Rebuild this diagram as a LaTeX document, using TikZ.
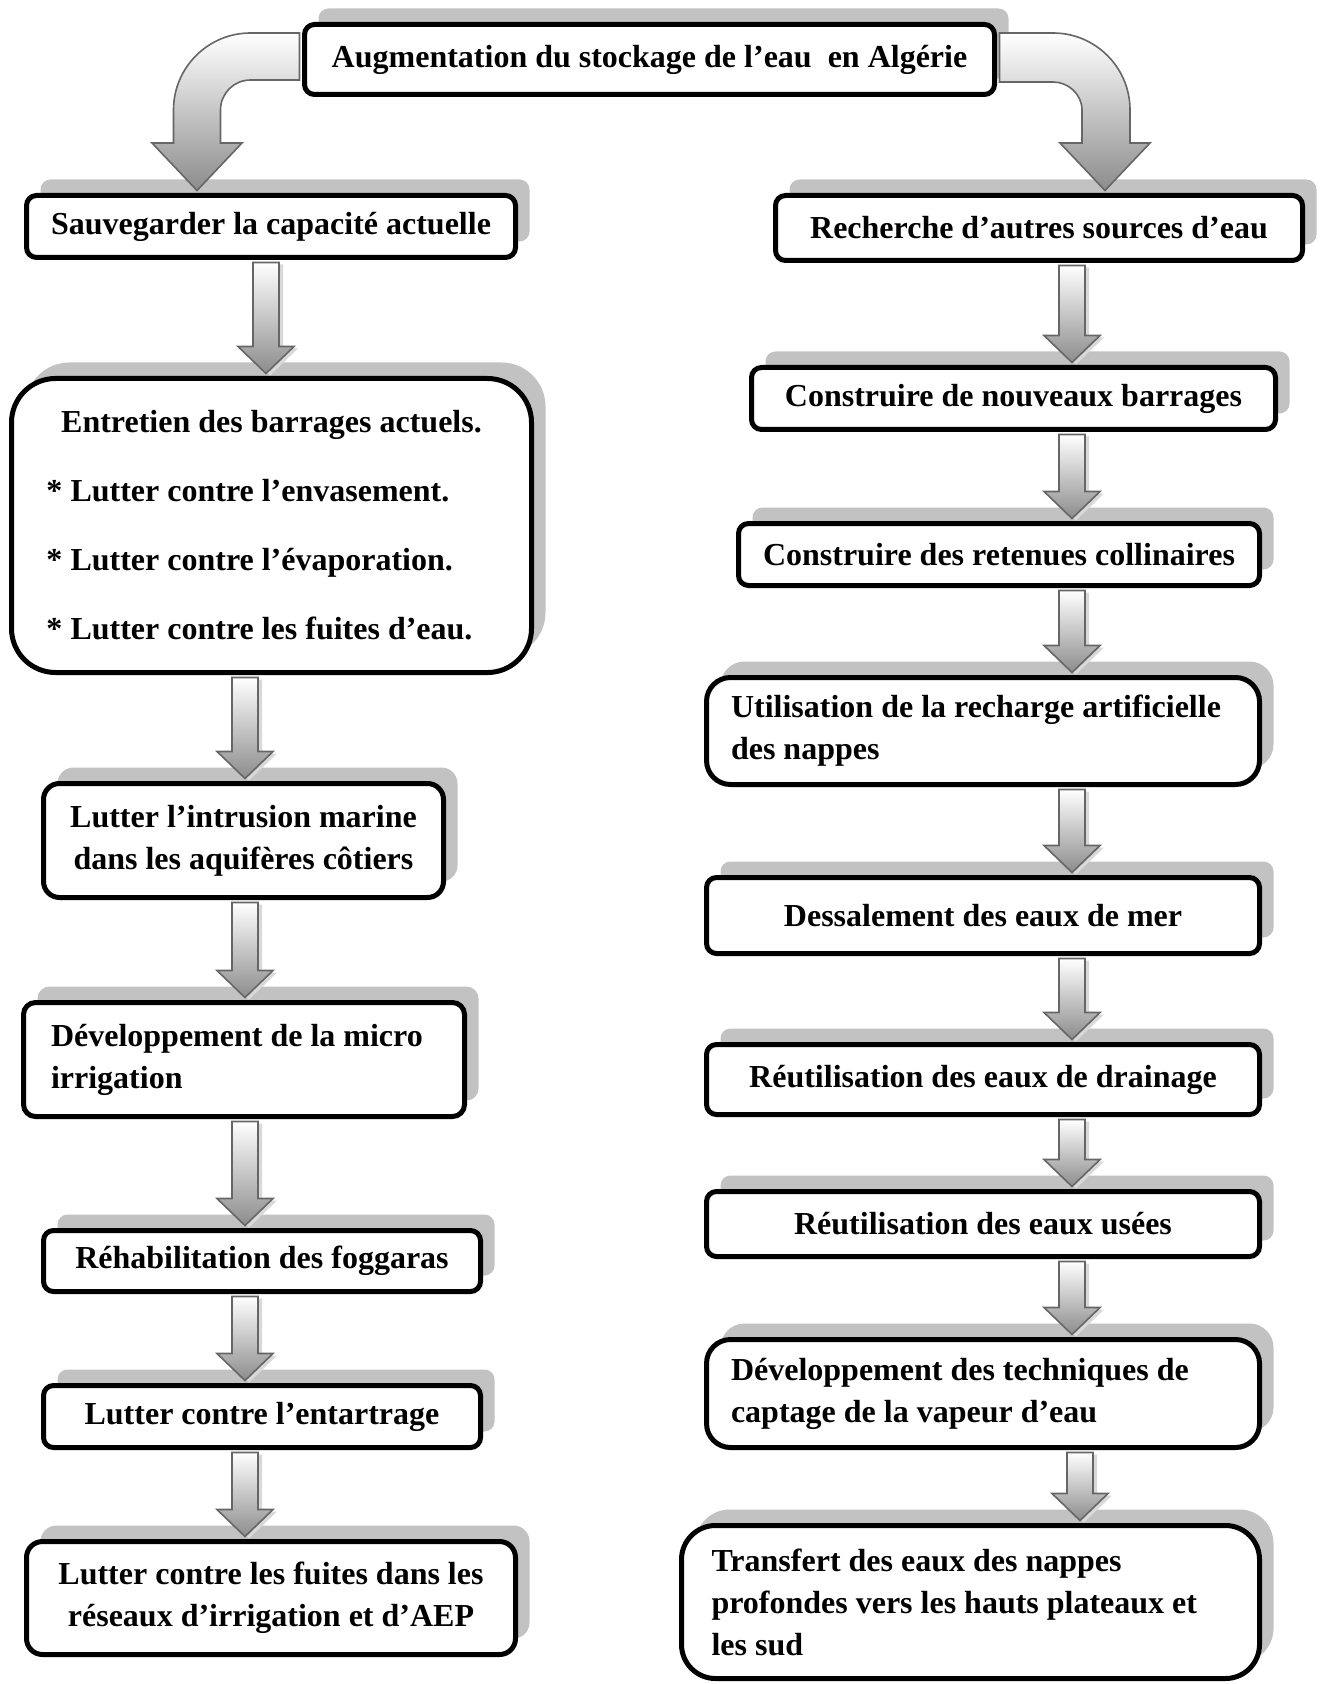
\documentclass[tikz,border=0pt]{standalone}
\usepackage{fontspec}
\setmainfont{Liberation Serif}
\usetikzlibrary{calc,shadows}
\tikzstyle{stage} = [draw, line width=2.5pt, fill=white, rounded corners=5pt, inner sep=0pt, align=center, font=\fontsize{16}{21}\selectfont\bfseries, drop shadow={shadow xshift=7pt, shadow yshift=8pt, fill=black!24, opacity=1}]
\tikzstyle{Flow} = [draw=black!60, line width=.8pt, top color=white, bottom color=black!45, drop shadow={shadow xshift=2pt, shadow yshift=-1pt, fill=black!15, opacity=1}]
\tikzstyle{Bend} = [draw=black!60, line width=.8pt, top color=white, bottom color=black!45]
% block arrow: #1 = x of the column, #2 = upper node, #3 = lower node
\newcommand{\blockdown}[3]{%
  \path[Flow] let \p1=(#2.south -| #1,0), \p2=(#3.north -| #1,0) in
    (\x1-6.5pt,\y1-1.25pt) -- (\x1+6.5pt,\y1-1.25pt) -- (\x1+6.5pt,\y2+14.75pt) -- (\x1+14pt,\y2+14.75pt)
    -- (\x1,\y2+1.25pt) -- (\x1-14pt,\y2+14.75pt) -- (\x1-6.5pt,\y2+14.75pt) -- cycle;}

\begin{document}
\begin{tikzpicture}[x=0.5pt, y=-0.5pt]
  \path[use as bounding box, fill=white] (0,0) rectangle (1320,1684);
  %%%%% Top %%%%%
  \node (A) [stage, minimum width=345pt, minimum height=35pt] at (649.5,59.5) {Augmentation du stockage de l’eau~~en Algérie};

  %%%%% Left branch %%%%%
  \node (B) [stage, minimum width=244.5pt, minimum height=31pt] at (271,226.5) {Sauvegarder la capacité actuelle};
  \node (C) [stage, rounded corners=22pt, minimum width=260pt, minimum height=147pt, text width=225pt, align=flush left, font=\fontsize{16}{34.5}\selectfont\bfseries] at (271.5,525.5) {\makebox[\linewidth]{Entretien des barrages actuels.}\\ {*} Lutter contre l’envasement.\\ {*} Lutter contre l’évaporation.\\ {*} Lutter contre les fuites d’eau.};
  \node (D) [stage, rounded corners=8pt, minimum width=200pt, minimum height=57pt] at (243.5,840.5) {Lutter l’intrusion marine\\ dans les aquifères côtiers};
  \node (E) [stage, rounded corners=6pt, minimum width=220.5pt, minimum height=57pt, text width=193pt, align=flush left] at (244,1059.5) {Développement de la micro\\ irrigation};
  \node (F) [stage, minimum width=218.5pt, minimum height=30.5pt] at (262,1261) {Réhabilitation des foggaras};
  \node (G) [stage, minimum width=218.5pt, minimum height=31pt] at (262,1416.5) {Lutter contre l’entartrage};
  \node (H) [stage, rounded corners=8pt, minimum width=244.5pt, minimum height=56.5pt] at (271,1598) {Lutter contre les fuites dans les\\ réseaux d’irrigation et d’AEP};

  %%%%% Right branch %%%%%
  \node (I) [stage, minimum width=263.5pt, minimum height=32.5pt] at (1039,228) {Recherche d’autres sources d’eau};
  \node (J) [stage, minimum width=262pt, minimum height=31pt] at (1013.5,398.5) {Construire de nouveaux barrages};
  \node (K) [stage, minimum width=260.5pt, minimum height=31pt] at (999,554.5) {Construire des retenues collinaires};
  \node (L) [stage, rounded corners=12pt, minimum width=276.5pt, minimum height=53.5pt, text width=252pt, align=flush left] at (983,731) {Utilisation de la recharge artificielle\\ des nappes};
  \node (M) [stage, minimum width=276.5pt, minimum height=38pt] at (983,915.5) {Dessalement des eaux de mer};
  \node (N) [stage, minimum width=276.5pt, minimum height=35pt] at (983,1079.5) {Réutilisation des eaux de drainage};
  \node (O) [stage, minimum width=276.5pt, minimum height=32.5pt] at (983,1224) {Réutilisation des eaux usées};
  \node (P) [stage, rounded corners=12pt, minimum width=276.5pt, minimum height=54pt, text width=252pt, align=flush left] at (983,1393.5) {Développement des techniques de\\ captage de la vapeur d’eau};
  \node (Q) [stage, rounded corners=17pt, minimum width=289pt, minimum height=76.5pt, text width=259pt, align=flush left] at (970.5,1602) {Transfert des eaux des nappes\\ profondes vers les hauts plateaux et\\ les sud};

  %%%%% Bent arrows %%%%%
  \path[Bend] ($(A.west |- 0,33)+(-2.5,0)$) -- (250.5,33) .. controls (208,33) and (173.5,67.5) .. (173.5,110) -- (173.5,143) -- (152,143) -- ($(B.north -| 197,0)+(0,-2.5)$) -- (242,143) -- (220.5,143) -- (220.5,110) .. controls (220.5,93.4) and (233.9,80) .. (250.5,80) -- ($(A.west |- 0,80)+(-2.5,0)$) -- cycle;
  \path[Bend] ($(A.east |- 0,33)+(2.5,0)$) -- (1053,33) .. controls (1095.5,33) and (1130,67.5) .. (1130,110) -- (1130,143) -- (1150,143) -- ($(I.north -| 1105,0)+(0,-2.5)$) -- (1060,143) -- (1082,143) -- (1082,110) .. controls (1082,94.5) and (1068.5,82) .. (1053,82) -- ($(A.east |- 0,82)+(2.5,0)$) -- cycle;

  %%%%% Down arrows %%%%%
  \blockdown{266}{B}{C}
  \blockdown{245}{C}{D}
  \blockdown{245}{D}{E}
  \blockdown{245}{E}{F}
  \blockdown{245}{F}{G}
  \blockdown{245}{G}{H}
  \blockdown{1072}{I}{J}
  \blockdown{1072}{J}{K}
  \blockdown{1072}{K}{L}
  \blockdown{1072}{L}{M}
  \blockdown{1072}{M}{N}
  \blockdown{1072}{N}{O}
  \blockdown{1072}{O}{P}
  \blockdown{1080}{P}{Q}
\end{tikzpicture}
\end{document}
